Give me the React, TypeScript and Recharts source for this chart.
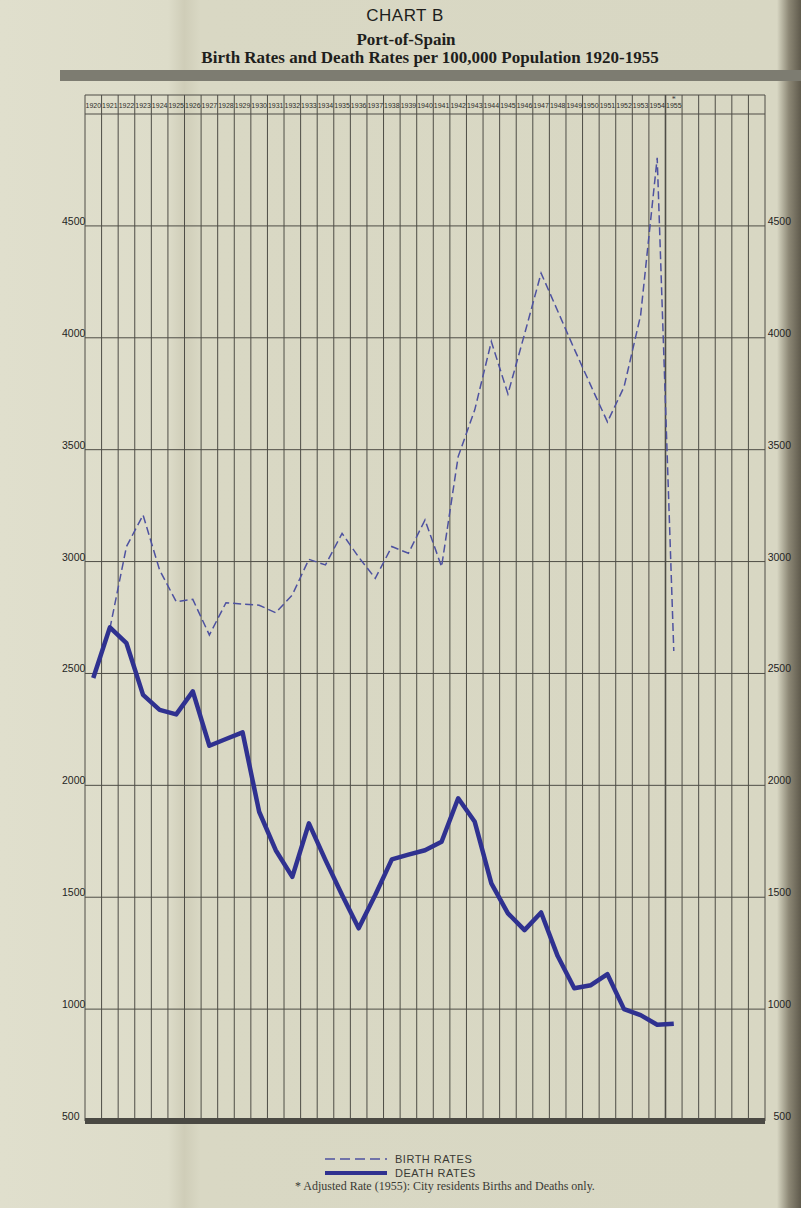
import { LineChart, Line, XAxis, YAxis, ReferenceLine } from 'recharts'

// years shown in the header row of the chart
const years = [
  1920, 1921, 1922, 1923, 1924, 1925, 1926, 1927, 1928, 1929,
  1930, 1931, 1932, 1933, 1934, 1935, 1936, 1937, 1938, 1939,
  1940, 1941, 1942, 1943, 1944, 1945, 1946, 1947, 1948, 1949,
  1950, 1951, 1952, 1953, 1954, 1955,
]
// blank columns on the right of the grid
const emptyColumns = [1956, 1957, 1958, 1959, 1960]

// per 100,000 population
const birthRates = [
  null, 2700, 3067, 3208, 2962, 2821, 2831, 2672, 2816, 2810,
  2805, 2771, 2851, 3010, 2985, 3126, 3020, 2925, 3067, 3037,
  3186, 2977, 3469, 3678, 3983, 3749, 4016, 4289, 4120, 3950,
  3786, 3624, 3780, 4100, 4804, 2600,
]
const deathRates = [
  2480, 2706, 2635, 2404, 2337, 2317, 2420, 2177, 2207, 2237,
  1882, 1710, 1591, 1830, 1666, 1510, 1361, 1510, 1669, 1690,
  1710, 1748, 1942, 1837, 1562, 1428, 1353, 1432, 1237, 1093,
  1107, 1156, 1000, 973, 930, 935,
]

const yTicks = [500, 1000, 1500, 2000, 2500, 3000, 3500, 4000, 4500]
const gridRows = [1000, 1500, 2000, 2500, 3000, 3500, 4000, 4500, 5000]
const HEADER_TOP = 5085

const data = years.map((year, i) => ({
  year,
  birth: birthRates[i],
  death: deathRates[i],
}))

const columnEdges = [...years, ...emptyColumns].map(y => y - 0.5)
columnEdges.push(emptyColumns[emptyColumns.length - 1] + 0.5)

const PAPER = '#d8d7c3'
const GRID = '#4e4d46'
const INK = '#2f3190'
const SANS = 'Liberation Sans, Arial, sans-serif'

const YearTick = (props: any) => {
  const { x, payload } = props
  return (
    <g>
      {payload.value === 1955 && (
        <text x={x} y={102} textAnchor="middle" fontSize={8} fill="#333">*</text>
      )}
      <text x={x} y={108} textAnchor="middle" fontSize={7} fontFamily={SANS} fill="#2e2e2a">
        {payload.value}
      </text>
    </g>
  )
}

// the scale is printed on both sides of the grid
const ValueTick = (props: any) => {
  const { y, payload } = props
  return (
    <g fontSize={10.5} fontFamily={SANS} fill="#24241f">
      <text x={62} y={y - 1}>{payload.value}</text>
      <text x={791} y={y - 1} textAnchor="end">{payload.value}</text>
    </g>
  )
}

export default function App() {
  return (
    <div
      style={{
        position: 'relative',
        width: 801,
        height: 1208,
        overflow: 'hidden',
        background: `linear-gradient(90deg, #e0dfcd 0%, #dddcc9 21%, #cfcdb8 23%, #d9d8c4 25%, ${PAPER} 97%, #8c8775 98.5%, #5f5a4c 100%)`,
        fontFamily: 'Liberation Serif, serif',
      }}
    >
      <style>{'body{margin:0}'}</style>

      <div style={{ position: 'absolute', top: 6, left: 0, width: 810, textAlign: 'center', fontFamily: SANS, fontSize: 17, color: '#1e1e1c', letterSpacing: 0.5 }}>
        CHART B
      </div>
      <div style={{ position: 'absolute', top: 30, left: 0, width: 812, textAlign: 'center', fontWeight: 'bold', fontSize: 17, color: '#1e1e1c' }}>
        Port-of-Spain
      </div>
      <div style={{ position: 'absolute', top: 48, left: 0, width: 860, textAlign: 'center', fontWeight: 'bold', fontSize: 17, color: '#1e1e1c' }}>
        Birth Rates and Death Rates per 100,000 Population 1920-1955
      </div>

      {/* dark strip of the binding across the top of the sheet */}
      <div style={{ position: 'absolute', top: 70, left: 60, width: 741, height: 11, background: '#7d7c71' }} />

      <div style={{ position: 'absolute', top: 0, left: 0 }}>
        <LineChart
          width={801}
          height={1208}
          data={data}
          margin={{ top: 95, right: 36, bottom: 87, left: 60 }}
        >
          <XAxis
            dataKey="year"
            type="number"
            orientation="top"
            mirror
            domain={[columnEdges[0], columnEdges[columnEdges.length - 1]]}
            ticks={years}
            interval={0}
            axisLine={false}
            tickLine={false}
            tick={<YearTick />}
          />
          <YAxis
            width={25}
            domain={[500, HEADER_TOP]}
            ticks={yTicks}
            interval={0}
            axisLine={false}
            tickLine={false}
            tick={<ValueTick />}
          />

          {columnEdges.map(x => (
            <ReferenceLine key={`c${x}`} x={x} stroke={GRID} strokeWidth={x === 1954.5 ? 1.6 : 1} />
          ))}
          {gridRows.map(v => (
            <ReferenceLine key={`r${v}`} y={v} stroke={GRID} strokeWidth={v === 5000 ? 1.2 : 1} />
          ))}
          <ReferenceLine y={HEADER_TOP} stroke={GRID} strokeWidth={1.2} />
          <ReferenceLine y={500} stroke="#4a4943" strokeWidth={6} />

          <Line
            type="linear"
            dataKey="birth"
            stroke="#4e52a0"
            strokeWidth={1.5}
            strokeDasharray="8 4"
            dot={false}
            isAnimationActive={false}
          />
          <Line
            type="linear"
            dataKey="death"
            stroke={INK}
            strokeWidth={4.5}
            strokeLinejoin="round"
            dot={false}
            isAnimationActive={false}
          />
        </LineChart>
      </div>

      <div style={{ position: 'absolute', top: 1152, left: 325, fontFamily: SANS, fontSize: 11, color: '#3a3a34' }}>
        <div style={{ display: 'flex', alignItems: 'center', height: 14 }}>
          <svg width={62} height={6}>
            <line x1={0} y1={3} x2={62} y2={3} stroke="#4e52a0" strokeWidth={1.5} strokeDasharray="10 5" />
          </svg>
          <span style={{ marginLeft: 8, letterSpacing: 0.5 }}>BIRTH RATES</span>
        </div>
        <div style={{ display: 'flex', alignItems: 'center', height: 14 }}>
          <svg width={62} height={6}>
            <line x1={0} y1={3} x2={62} y2={3} stroke={INK} strokeWidth={4} />
          </svg>
          <span style={{ marginLeft: 8, letterSpacing: 0.5 }}>DEATH RATES</span>
        </div>
      </div>
      <div style={{ position: 'absolute', top: 1179, left: 295, fontSize: 12, color: '#3a3a34' }}>
        * Adjusted Rate (1955): City residents Births and Deaths only.
      </div>
    </div>
  )
}
